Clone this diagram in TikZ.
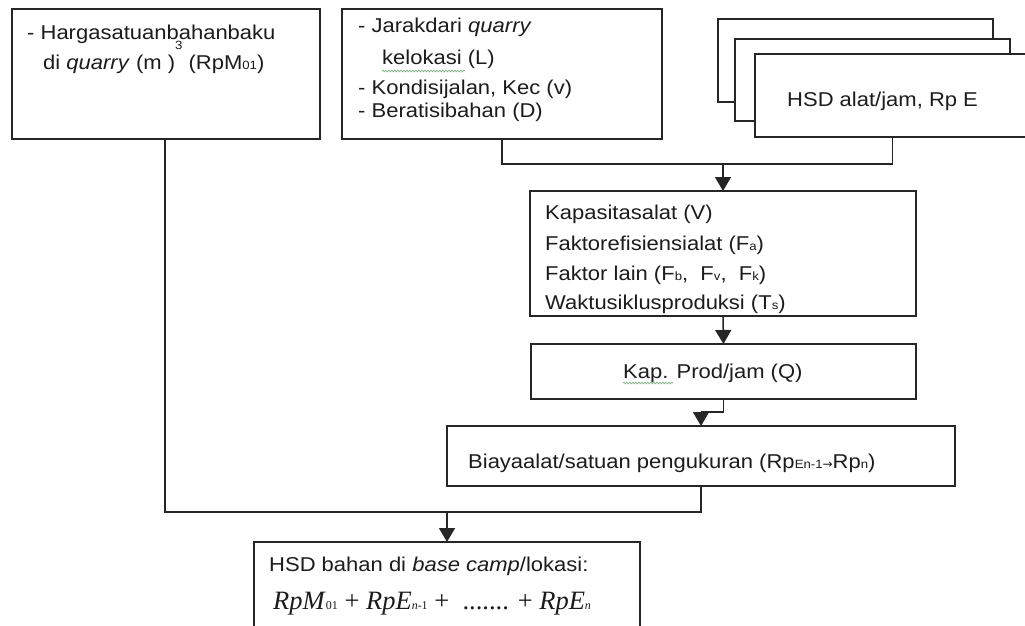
\documentclass[tikz,border=0pt]{standalone}
\usepackage{fontspec}
\setmainfont{Liberation Sans}[FakeStretch=1.1]
\newfontfamily\formfont{Liberation Serif}
\newfontfamily\symfont{DejaVu Sans}
\usetikzlibrary{arrows.meta,decorations.pathmorphing}

\definecolor{linecol}{HTML}{262626}
\definecolor{textcol}{HTML}{1C1C1C}
\definecolor{spellcol}{HTML}{7FB07F}

% small index letters that sit on the baseline
\newcommand\lsub[1]{{\fontsize{12}{12}\selectfont #1}}
\newcommand\fsub[1]{{\fontsize{12}{12}\selectfont #1}}

\begin{document}
\begin{tikzpicture}[x=1pt,y=-1pt,
  box/.style={draw=linecol, line width=1.5pt, fill=white, rectangle,
              inner sep=0pt, outer sep=0pt},
  conn/.style={draw=linecol, line width=1.5pt},
  arr/.style={conn, -{Triangle[width=16pt,length=14pt]}},
  txt/.style={anchor=base west, inner sep=0pt, text=textcol,
              font=\fontsize{20}{30}\selectfont},
  formula/.style={anchor=base west, inner sep=0pt, text=textcol,
              font=\fontsize{26.5}{30}\selectfont\formfont},
  spell/.style={draw=spellcol, line width=0.7pt, decorate,
              decoration={snake, amplitude=0.8pt, segment length=3pt}}
]
\useasboundingbox (0,0) rectangle (1025,626);
\clip (0,0) rectangle (1025,626);
\fill[white] (0,0) rectangle (1025,626);

% ---- boxes ----
\node[box, minimum width=308pt, minimum height=130pt] (b1) at (166,74) {};
\node[box, minimum width=320pt, minimum height=130pt] (b2) at (502,74) {};
\node[box, minimum width=275pt, minimum height=83pt] (b3a) at (855.5,60.5) {};
\node[box, minimum width=275pt, minimum height=82pt] (b3b) at (872.5,80) {};
\node[box, minimum width=275pt, minimum height=83pt] (b3c) at (892.5,95.5) {};
\node[box, minimum width=386pt, minimum height=125pt] (b4) at (723,253.5) {};
\node[box, minimum width=385pt, minimum height=55pt] (b5) at (723.5,371.5) {};
\node[box, minimum width=508pt, minimum height=60pt] (b6) at (701,456) {};
\node[box, minimum width=386pt, minimum height=100pt] (b7) at (447,592) {};

% ---- texts ----
\node[txt] (t11) at (27,40) {- Hargasatuanbahanbaku};
\node[txt] (t12) at (43,70) {di \textit{quarry} (m )\raisebox{20pt}{\lsub{3}} (RpM\lsub{01})};

\node[txt] (t21) at (358,33) {- Jarakdari \textit{quarry}};
\node[txt] (t22) at (382,65) {kelokasi (L)};
\node[txt] (t23) at (358,94) {- Kondisijalan, Kec (v)};
\node[txt] (t24) at (358,117) {- Beratisibahan (D)};

\node[txt] (t3) at (787,106) {HSD alat/jam, Rp E};

\node[txt] (t41) at (545,219) {Kapasitasalat (V)};
\node[txt] (t42) at (545,250) {Faktorefisiensialat (F\lsub{a})};
\node[txt] (t43) at (545,280) {Faktor lain (F\lsub{b}, \ F\lsub{v}, \ F\lsub{k})};
\node[txt] (t44) at (545,309) {Waktusiklusproduksi (T\lsub{s})};

\node[txt] (t5) at (623,378) {Kap. Prod/jam (Q)};

\node[txt] (t6) at (468,468) {Biayaalat/satuan pengukuran (Rp\lsub{En-1}\lsub{\symfont →}Rp\lsub{n})};

\node[txt] (t71) at (269,571) {HSD bahan di \textit{base camp}/lokasi:};
\node[formula] (t72) at (273,609) {\textit{RpM}\fsub{01} + \textit{RpE}\fsub{\textit{n}-1} + \ ....... + \textit{RpE}\fsub{\textit{n}}};

% spelling marks under two words
\draw[spell] ([yshift=-6pt]t22.base west) -- ++(83,0);
\draw[spell] ([yshift=-5pt]t5.base west) -- ++(50,0);

% ---- connectors ----
\coordinate (j4) at (723,164);
\coordinate (j6) at (701,412);
\coordinate (j7) at (447,512);

\draw[conn] (b2.south) |- (j4) -| (b3c.south);
\draw[arr] (j4) -- (b4.north);
\draw[arr] (b4.south) -- (b5.north);
\draw[conn] (b5.south) |- (j6);
\draw[arr] (j6) -- (b6.north);
\draw[conn] (b1.south -| 165,0) |- (j7);
\draw[conn] (b6.south) |- (j7);
\draw[arr] (j7) -- (b7.north);
\end{tikzpicture}
\end{document}
